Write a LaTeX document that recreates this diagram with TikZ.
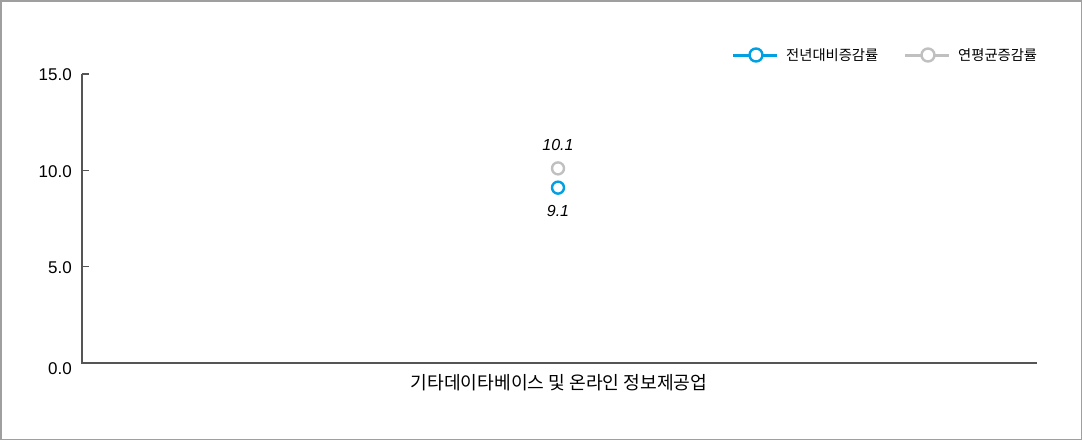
\documentclass[tikz,border=0pt]{standalone}
\usepackage{fontspec}
\setmainfont{Liberation Sans}
\newfontfamily\kr{Noto Sans CJK KR}
\usetikzlibrary{positioning}
\definecolor{yoy}{RGB}{0,160,226}
\definecolor{avg}{RGB}{192,192,192}
\definecolor{axisgray}{RGB}{85,85,85}

\begin{document}
\begin{tikzpicture}[x=1pt,y=-1pt,node distance=10pt,
  dot/.style={circle,draw,fill=white,line width=2.4pt,minimum size=12pt,inner sep=0pt},
  ylab/.style={anchor=east,inner sep=0pt,font=\fontsize{17}{18}\selectfont},
  vlab/.style={inner sep=0pt,font=\fontsize{16}{16}\selectfont\itshape},
  leg/.style={anchor=west,inner sep=0pt,font=\kr\fontsize{14.3}{14}\selectfont}]
\useasboundingbox (0,0) rectangle (1082,440);
\draw[gray!75,line width=1.5pt] (0.75,0.75) rectangle (1081.25,439.25);
%axes
\coordinate (top) at (82,74);
\coordinate (o) at (82,363);
\coordinate (xend) at (1037,363);
\draw[axisgray,line width=1.5pt] (top) -- (o) -- (xend);
\foreach \v/\t/\ly in {0/0.0/369,5/5.0/268,10/10.0/172,15/15.0/75}{
  \draw[axisgray,line width=1.5pt] (82,{363-\v*19.27}) -- (89,{363-\v*19.27});
  \node[ylab] (y\v) at (72,\ly) {\t};
}
\node[font=\kr\fontsize{18.2}{18}\selectfont] (cat) at (559,383) {기타데이타베이스 및 온라인 정보제공업};
%points
\node[dot,draw=avg] (pa) at (558,{363-10.1*19.27}) {};
\node[dot,draw=yoy] (pb) at (558,{363-9.1*19.27}) {};
\node[vlab,above=of pa] (va) {10.1};
\node[vlab,below=of pb] (vb) {9.1};
%legend
\coordinate (l1a) at (733,55); \coordinate (l1b) at (777,55);
\draw[yoy,line width=3pt] (l1a) -- (l1b);
\node[dot,draw=yoy,minimum size=13pt] (l1) at (756,55) {};
\node[leg,right=9pt of l1b] (t1) {전년대비증감률};
\coordinate (l2a) at (905,55); \coordinate (l2b) at (949,55);
\draw[avg,line width=3pt] (l2a) -- (l2b);
\node[dot,draw=avg,minimum size=13pt] (l2) at (928,55) {};
\node[leg,right=9pt of l2b] (t2) {연평균증감률};
\end{tikzpicture}
\end{document}
